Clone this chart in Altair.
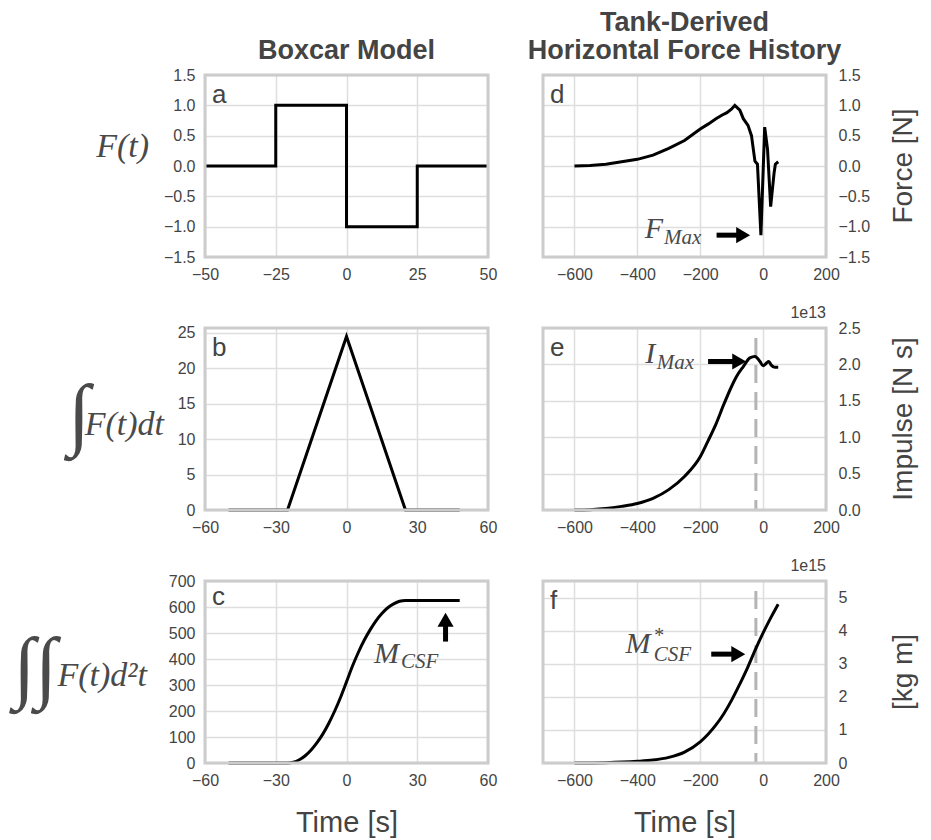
import altair as alt
import pandas as pd

# ---------------- data ----------------
# Boxcar model (left column)
box_t = [-50, -25, -25, 0, 0, 25, 25, 50]
box_f = [0, 0, 1, 1, -1, -1, 0, 0]

box_imp_t = [-50, -25, 0, 25, 48]
box_imp_v = [0, 0, 24.5, 0, 0]

box_dbl_t = [-50, -25, -22.5, -20, -17.5, -15, -12.5, -10, -7.5, -5, -2.5, 0,
             2.5, 5, 7.5, 10, 12.5, 15, 17.5, 20, 22.5, 25, 48]
box_dbl_v = [0, 0, 3, 12.5, 28, 50, 78, 112, 153, 200, 253, 312,
             372, 425, 472, 512, 547, 575, 597, 612, 622, 625, 625]

# Tank-derived horizontal force history (right column)
tank_t = [-600, -550, -500, -450, -400, -350, -300, -250, -200, -175, -150, -130,
          -115, -100, -90, -80, -74, -63, -48, -37, -26, -18, -7, 5, 14, 24, 35, 39, 48]
tank_f = [0.0, 0.01, 0.03, 0.07, 0.11, 0.18, 0.29, 0.42, 0.61, 0.69, 0.78, 0.84,
          0.88, 0.94, 1.0, 0.95, 0.92, 0.78, 0.67, 0.50, 0.08, 0.03, -1.14, 0.64,
          0.28, -0.67, -0.11, 0.03, 0.07]

tank_imp_t = [-600, -550, -500, -450, -400, -350, -300, -250, -200, -175, -150, -125,
              -100, -85, -63, -42, -26, -10, 0, 11, 18, 26, 37, 48]
tank_imp_v = [0.0, 0.005, 0.02, 0.05, 0.09, 0.16, 0.28, 0.46, 0.73, 0.95, 1.18, 1.45,
              1.70, 1.83, 1.97, 2.09, 2.11, 2.04, 1.98, 2.02, 2.04, 1.99, 1.96, 1.96]

tank_dbl_t = [-600, -500, -400, -350, -300, -250, -200, -175, -150, -125, -100, -75,
              -50, -25, 0, 25, 48]
tank_dbl_v = [0, 0.01, 0.05, 0.09, 0.17, 0.33, 0.64, 0.87, 1.15, 1.49, 1.90, 2.37,
              2.87, 3.42, 3.93, 4.40, 4.80]

peak_time = [-23]

# tick labels
ticks_a_x = [-50, -25, 0, 25, 50]
ticks_bc_x = [-60, -30, 0, 30, 60]
ticks_tank_x = [-600, -400, -200, 0, 200]
ticks_force_y = [-1.5, -1.0, -0.5, 0.0, 0.5, 1.0, 1.5]
ticks_b_y = [0, 5, 10, 15, 20, 25]
ticks_c_y = [0, 100, 200, 300, 400, 500, 600, 700]
ticks_e_y = [0.0, 0.5, 1.0, 1.5, 2.0, 2.5]
ticks_f_y = [0, 1, 2, 3, 4, 5]

# texts
col_titles = ["Boxcar Model", ["Tank-Derived", "Horizontal Force History"]]
letters = ["a", "b", "c", "d", "e", "f"]
left_labels = ["F(t)", "F(t)dt", "F(t)d²t"]
right_labels = ["Force [N]", "Impulse [N s]", "[kg m]"]
offsets = ["1e13", "1e15"]
time_title = "Time [s]"

# ---------------- styling ----------------
W, H = 283, 182
FONT = "Liberation Sans"
SERIF = "Liberation Serif"
TXT = "#444444"
MATH = "#4a4a4a"


def one(**kw):
    return pd.DataFrame({k: [v] for k, v in kw.items()})


def encs(xdom, xticks, xtitle, ydom, yticks, yfmt, orient):
    xaxis = alt.Axis(values=xticks, format="d", title=xtitle, labelFlush=False,
                     labelOverlap=False)
    yaxis = alt.Axis(values=yticks, format=yfmt, title=None, orient=orient,
                     labelFlush=False, labelOverlap=False,
                     labelPadding=12 if orient == "right" else 10)
    X = alt.X("t:Q", scale=alt.Scale(domain=xdom, nice=False, zero=False), axis=xaxis)
    Y = alt.Y("v:Q", scale=alt.Scale(domain=ydom, nice=False, zero=False), axis=yaxis)
    return X, Y


def pix_text(s, x, y, size, font=FONT, italic=False, align="left", baseline="alphabetic",
             angle=0, color=TXT):
    kw = dict(align=align, baseline=baseline, fontSize=size, color=color, font=font)
    if italic:
        kw["fontStyle"] = "italic"
    if angle:
        kw["angle"] = angle
    return alt.Chart(one(s=s)).mark_text(**kw).encode(
        x=alt.value(x), y=alt.value(y), text="s:N")


def data_text(E, s, t, v, size, align="left"):
    X, Y = E
    return alt.Chart(one(s=s, t=t, v=v)).mark_text(
        align=align, baseline="alphabetic", fontSize=size, color=MATH,
        font=SERIF, fontStyle="italic").encode(x=X, y=Y, text="s:N")


def arrow_h(E, t0, t1, v):
    X, Y = E
    shaft = alt.Chart(one(t=t0, t2=t1, v=v)).mark_rule(
        color="black", strokeWidth=5).encode(x=X, x2="t2:Q", y=Y)
    head = alt.Chart(one(t=t1, v=v)).mark_point(
        shape="triangle-right", filled=True, size=260, color="black", opacity=1).encode(
        x=X, y=Y)
    return [shaft, head]


def arrow_v(E, t, v0, v1):
    X, Y = E
    shaft = alt.Chart(one(t=t, v=v0, v2=v1)).mark_rule(
        color="black", strokeWidth=5).encode(x=X, y=Y, y2="v2:Q")
    head = alt.Chart(one(t=t, v=v1)).mark_point(
        shape="triangle-up", filled=True, size=260, color="black", opacity=1).encode(
        x=X, y=Y)
    return [shaft, head]


def dashed(E):
    X, Y = E
    return alt.Chart(pd.DataFrame({"t": peak_time})).mark_rule(
        color="#b4b4b4", strokeWidth=3, strokeDash=[18, 9]).encode(
        x=X, y=alt.value(10), y2=alt.value(H))


def frame():
    return alt.Chart(one(k=0)).mark_rect(
        fill="#ffffff", fillOpacity=0, stroke="#cccccc", strokeWidth=3).encode(
        x=alt.value(0), x2=alt.value(W), y=alt.value(0), y2=alt.value(H))


def panel(E, t, v, letter, interp="linear", pre=(), extras=(), letter_y=28, title=None):
    X, Y = E
    df = pd.DataFrame({"t": t, "v": v, "i": list(range(len(t)))})
    line = alt.Chart(df).mark_line(color="black", strokeWidth=3, interpolate=interp).encode(
        x=X, y=Y, order="i:Q")
    lab = pix_text(letter, 7, letter_y, 26)
    layers = list(pre) + [line] + list(extras) + [lab, frame()]
    ch = alt.layer(*layers).properties(width=W, height=H)
    if title is not None:
        ch = ch.properties(title=alt.TitleParams(
            text=title, fontSize=27, fontWeight="bold", color=TXT, font=FONT,
            anchor="middle", frame="group", offset=2, lineHeight=28))
    return ch


Ea = encs([-50, 50], ticks_a_x, None, [-1.5, 1.5], ticks_force_y, ".1f", "left")
Eb = encs([-60, 60], ticks_bc_x, None, [0, 25.7], ticks_b_y, "d", "left")
Ec = encs([-60, 60], ticks_bc_x, time_title, [0, 700], ticks_c_y, "d", "left")
Ed = encs([-700, 200], ticks_tank_x, None, [-1.5, 1.5], ticks_force_y, ".1f", "right")
Ee = encs([-700, 200], ticks_tank_x, None, [0, 2.5], ticks_e_y, ".1f", "right")
Ef = encs([-700, 200], ticks_tank_x, time_title, [0, 5.5], ticks_f_y, "d", "right")

pa = panel(Ea, box_t, box_f, letters[0], title=col_titles[0],
           extras=[pix_text(left_labels[0], -56, 72, 34, font=SERIF, italic=True,
                            align="right", baseline="middle", color=MATH)])

pb = panel(Eb, box_imp_t, box_imp_v, letters[1],
           extras=[pix_text("∫", -115, 88, 80, font=SERIF, italic=True, align="right",
                            baseline="middle", color=MATH),
                   pix_text(left_labels[1], -41, 97, 34, font=SERIF, italic=True,
                            align="right", baseline="middle", color=MATH)])

pc = panel(Ec, box_dbl_t, box_dbl_v, letters[2], interp="monotone", letter_y=24,
           extras=[pix_text("∫∫", -148, 88, 80, font=SERIF, italic=True, align="right",
                            baseline="middle", color=MATH),
                   pix_text(left_labels[2], -58, 95, 34, font=SERIF, italic=True,
                            align="right", baseline="middle", color=MATH),
                   *arrow_v(Ec, 42, 467, 551),
                   data_text(Ec, "M", 22.3, 384, 30, align="right"),
                   data_text(Ec, "CSF", 23.1, 366, 21)])

pd_ = panel(Ed, tank_t, tank_f, letters[3], title=col_titles[1],
            extras=[*arrow_h(Ed, -148, -63.5, -1.14),
                    data_text(Ed, "F", -318, -1.19, 30, align="right"),
                    data_text(Ed, "Max", -315, -1.28, 21),
                    pix_text(right_labels[0], W + 78, H / 2, 28, align="center",
                             baseline="middle", angle=270)])

pe = panel(Ee, tank_imp_t, tank_imp_v, letters[4], interp="monotone", pre=[dashed(Ee)],
           extras=[*arrow_h(Ee, -175, -76, 2.04),
                   data_text(Ee, "I", -343, 2.02, 30, align="right"),
                   data_text(Ee, "Max", -338, 1.94, 21),
                   pix_text(offsets[0], W, -10, 16, align="right"),
                   pix_text(right_labels[1], W + 78, H / 2, 28, align="center",
                            baseline="middle", angle=270)])

pf = panel(Ef, tank_dbl_t, tank_dbl_v, letters[5], interp="monotone", pre=[dashed(Ef)],
           extras=[*arrow_h(Ef, -165, -79, 3.29),
                   data_text(Ef, "M", -358, 3.32, 30, align="right"),
                   data_text(Ef, "*", -349, 3.66, 20),
                   data_text(Ef, "CSF", -348, 3.08, 21),
                   pix_text(offsets[1], W, -10, 16, align="right"),
                   pix_text(right_labels[2], W + 78, H / 2, 28, align="center",
                            baseline="middle", angle=270)])

chart = alt.concat(
    pa, pd_, pb, pe, pc, pf, columns=2,
    spacing={"row": 71, "column": 55}, bounds="flush",
    padding={"left": 12, "top": 8, "right": 5, "bottom": 5},
).configure(font=FONT, background="white").configure_view(
    stroke="transparent"
).configure_axis(
    domain=False, ticks=False, grid=True, gridColor="#dedede", gridWidth=1.5,
    labelFont=FONT, labelFontSize=16, labelColor=TXT, labelPadding=9,
    labelFlush=False, labelOverlap=False,
    titleFont=FONT, titleFontSize=29, titleColor=TXT, titleFontWeight="normal",
    titlePadding=20,
)

chart.save("out.html", embed_options={"renderer": "svg", "actions": False})
